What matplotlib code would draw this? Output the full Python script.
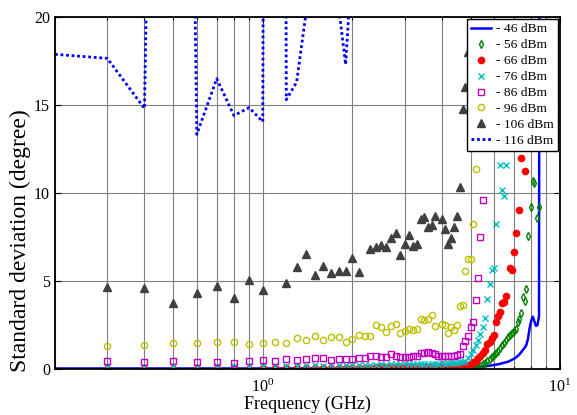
import numpy as np
import matplotlib
matplotlib.use('Agg')
import matplotlib.pyplot as plt
from matplotlib.ticker import LogLocator, NullFormatter

nan = np.nan
plt.rcParams['font.family'] = 'Liberation Serif'
plt.rcParams['mathtext.fontset'] = 'stix'

# --- data (GHz / degree) ---
freq = [0.2, 0.3, 0.4, 0.5, 0.6, 0.7, 0.8, 0.9, 1.0, 1.1,
        1.2, 1.3, 1.4, 1.5, 1.6, 1.7, 1.8, 1.9, 2.0, 2.1,
        2.2, 2.3, 2.4, 2.5, 2.6, 2.7, 2.8, 2.9, 3.0, 3.1,
        3.2, 3.3, 3.4, 3.5, 3.6, 3.7, 3.8, 3.9, 4.0, 4.1,
        4.2, 4.3, 4.4, 4.5, 4.6, 4.7, 4.8, 4.9, 5.0, 5.1,
        5.2, 5.3, 5.4, 5.5, 5.6, 5.7, 5.8, 5.9, 6.0, 6.1,
        6.2, 6.3, 6.4, 6.5, 6.6, 6.7, 6.8, 6.9, 7.0, 7.1,
        7.2, 7.3, 7.4, 7.5, 7.6, 7.7, 7.8, 7.9, 8.0, 8.1,
        8.2, 8.3, 8.4, 8.5, 8.6]

std_46 = [0.03, 0.03, 0.03, 0.03, 0.03, 0.03, 0.03, 0.03, 0.03, 0.03,
          0.03, 0.03, 0.03, 0.03, 0.03, 0.03, 0.03, 0.03, 0.03, 0.03,
          0.03, 0.03, 0.03, 0.03, 0.03, 0.03, 0.03, 0.03, 0.03, 0.03,
          0.03, 0.03, 0.03, 0.03, 0.03, 0.03, 0.03, 0.03, 0.04, 0.04,
          0.04, 0.04, 0.04, 0.05, 0.05, 0.06, 0.06, 0.07, 0.07, 0.08,
          0.09, 0.11, 0.13, 0.14, 0.16, 0.17, 0.19, 0.21, 0.23, 0.25,
          0.27, 0.30, 0.33, 0.36, 0.39, 0.42, 0.47, 0.53, 0.58, 0.65,
          0.73, 0.83, 0.95, 1.08, 1.20, 1.35, 1.70, 2.30, 2.75, 2.97,
          2.70, 2.45, 2.50, 3.00, 95.0]

std_56 = [nan, 0.04, 0.04, 0.04, 0.04, 0.04, 0.04, 0.04, 0.04, 0.04,
          0.04, 0.04, 0.04, 0.04, 0.04, 0.04, 0.04, 0.04, 0.04, 0.04,
          0.04, 0.04, 0.04, 0.04, 0.04, 0.04, 0.04, 0.04, 0.04, 0.04,
          0.04, 0.04, 0.04, 0.04, 0.04, 0.04, 0.04, 0.04, 0.04, 0.04,
          0.04, 0.04, 0.04, 0.04, 0.04, 0.04, 0.04, 0.05, 0.07, 0.08,
          0.10, 0.14, 0.19, 0.26, 0.34, 0.44, 0.55, 0.66, 0.78, 0.92,
          1.05, 1.20, 1.35, 1.50, 1.65, 1.80, 1.93, 2.05, 2.15, 2.30,
          2.69, 2.86, 3.16, 4.11, 3.87, 4.53, 7.56, nan, 9.22, 10.70,
          10.55, nan, 8.60, 9.19, nan]

std_66 = [nan, 0.02, 0.02, 0.02, 0.02, 0.02, 0.02, 0.02, 0.03, 0.03,
          0.04, 0.04, 0.05, 0.05, 0.05, 0.06, 0.06, 0.06, 0.07, 0.07,
          0.08, 0.08, 0.09, 0.09, 0.10, 0.10, 0.11, 0.11, 0.12, 0.12,
          0.12, 0.13, 0.13, 0.13, 0.14, 0.14, 0.14, 0.14, 0.15, 0.15,
          0.15, 0.15, 0.16, 0.16, 0.17, 0.18, 0.20, 0.23, 0.30, 0.38,
          0.48, 0.61, 0.75, 0.90, 1.06, 1.42, 1.55, 1.77, 1.93, 2.69,
          2.99, 3.24, 3.73, 3.80, 4.15, nan, 5.74, 5.60, 6.62, 7.75,
          nan, 9.05, 12.00, nan, 11.25, nan, nan, nan, nan, nan,
          nan, nan, nan, nan, nan]

std_76 = [nan, 0.14, 0.13, 0.15, 0.14, 0.16, 0.15, 0.17, 0.16, 0.18,
          0.19, 0.18, 0.20, 0.21, 0.19, 0.22, 0.21, 0.22, 0.23, 0.22,
          0.24, 0.25, 0.24, 0.26, 0.25, 0.27, 0.26, 0.27, 0.28, 0.27,
          0.28, 0.29, 0.30, 0.29, 0.30, 0.31, 0.30, 0.31, 0.32, 0.31,
          0.32, 0.33, 0.34, 0.35, 0.38, 0.42, 0.48, 0.60, 0.83, 1.08,
          1.36, 1.65, 1.97, 2.40, 2.88, 3.98, 4.82, 5.63, 5.76, 8.24,
          nan, 11.60, 10.15, 9.83, 11.60, nan, nan, nan, nan, nan,
          nan, nan, nan, nan, nan, nan, nan, nan, nan, nan,
          nan, nan, nan, nan, nan]

std_86 = [nan, 0.47, 0.40, 0.45, 0.38, 0.38, 0.34, 0.47, 0.53, 0.45,
          0.57, 0.53, 0.58, 0.60, 0.60, 0.53, 0.56, 0.57, 0.58, 0.60,
          0.64, 0.72, 0.72, 0.66, 0.66, 0.85, 0.74, 0.66, 0.66, 0.70,
          0.72, 0.74, 0.90, 0.93, 0.95, 0.93, 0.85, 0.75, 0.74, 0.74,
          0.72, 0.74, 0.76, 0.80, 0.83, 1.29, 1.57, 1.86, 2.39, 2.65,
          3.91, 5.18, 7.48, 9.60, nan, nan, nan, nan, nan, nan,
          nan, nan, nan, nan, nan, nan, nan, nan, nan, nan,
          nan, nan, nan, nan, nan, nan, nan, nan, nan, nan,
          nan, nan, nan, nan, nan]

std_96 = [nan, 1.33, 1.36, 1.50, 1.50, 1.53, 1.53, 1.42, 1.47, 1.52,
          1.47, 1.74, 1.67, 1.88, 1.64, 1.80, 1.80, 1.53, 1.68, 1.96,
          1.86, 1.87, 2.48, 2.39, 2.12, 2.46, 2.54, 2.04, 2.16, 2.25,
          2.20, 2.25, 2.86, 2.77, 2.82, 3.07, 2.43, nan, 2.54, 2.50,
          2.06, 2.39, 2.20, 2.48, 3.60, 3.63, 5.54, 6.27, 6.27, 8.22,
          11.36, nan, nan, nan, nan, nan, nan, nan, nan, nan,
          nan, nan, nan, nan, nan, nan, nan, nan, nan, nan,
          nan, nan, nan, nan, nan, nan, nan, nan, nan, nan,
          nan, nan, nan, nan, nan]

std_106 = [nan, 4.64, 4.60, 3.73, 4.30, 4.73, 4.05, 5.06, 4.47, nan,
           4.87, 5.78, 6.55, 5.36, 5.87, 5.47, 5.59, 5.57, 6.33, 5.51,
           nan, 6.84, 6.95, 7.02, 6.93, 7.46, 7.74, 6.47, 7.08, 7.60,
           7.00, 7.08, 8.53, 8.65, 8.04, 8.21, 8.71, nan, 8.52, 7.98,
           7.08, 7.42, 8.08, 8.68, 10.35, 14.75, 16.00, 18.00, nan, nan,
           nan, nan, nan, nan, nan, nan, nan, nan, nan, nan,
           nan, nan, nan, nan, nan, nan, nan, nan, nan, nan,
           nan, nan, nan, nan, nan, nan, nan, nan, nan, nan,
           nan, nan, nan, nan, nan]

std_116 = [17.88, 17.65, 14.80, 110.0, 13.33, 16.50, 14.40, 14.85, 14.05, 250.0,
           15.30, 16.30, 20.30, 26.0, 30.0, 27.0, 20.60, 17.30, 23.40, nan,
           nan, nan, nan, nan, nan, nan, nan, nan, nan, nan,
           nan, nan, nan, nan, nan, nan, nan, nan, nan, nan,
           nan, nan, nan, nan, nan, nan, nan, nan, nan, nan,
           nan, nan, nan, nan, nan, nan, nan, nan, nan, nan,
           nan, nan, nan, nan, nan, nan, nan, nan, nan, nan,
           nan, nan, nan, nan, nan, nan, nan, nan, nan, nan,
           nan, nan, nan, nan, nan]

labels = ['- 46 dBm', '- 56 dBm', '- 66 dBm', '- 76 dBm',
          '- 86 dBm', '- 96 dBm', '- 106 dBm', '- 116 dBm']

# --- figure ---
fig = plt.figure(figsize=(5.77, 4.15), dpi=100)
ax = fig.add_axes([55 / 577, 46 / 415, 505 / 577, 352 / 415])

ax.plot(freq, std_46, color='#0000ff', lw=1.8, label=labels[0])
ax.plot(freq, std_56, ls='none', marker='d', ms=4, mfc='none', mec='#008000',
        mew=1.0, label=labels[1])
ax.plot(freq, std_66, ls='none', marker='o', ms=4.5, color='#ff0000',
        label=labels[2])
ax.plot(freq, std_76, ls='none', marker='x', ms=4, mew=1.0, color='#00bfbf',
        label=labels[3])
ax.plot(freq, std_86, ls='none', marker='s', ms=4.5, mfc='none', mec='#bf00bf',
        mew=1.0, label=labels[4])
ax.plot(freq, std_96, ls='none', marker='o', ms=4.5, mfc='none', mec='#bfbf00',
        mew=1.0, label=labels[5])
ax.plot(freq, std_106, ls='none', marker='^', ms=6, color='#404040',
        label=labels[6])
ax.plot(freq, std_116, color='#0000ff', lw=2, ls=(0, (1, 1)), label=labels[7])

ax.set_xscale('log')
ax.set_xlim(0.2, 10)
ax.set_ylim(0, 20)
ax.set_yticks([0, 5, 10, 15, 20])
ax.xaxis.set_major_locator(LogLocator(base=10))
ax.xaxis.set_minor_locator(LogLocator(base=10, subs=np.arange(2, 10)))
ax.xaxis.set_minor_formatter(NullFormatter())

ax.grid(True, which='both', axis='x', color='0.5', lw=0.8)
ax.grid(True, which='major', axis='y', color='0.5', lw=0.8)
ax.set_axisbelow(True)

ax.tick_params(which='both', direction='in', top=True, right=True,
               labelsize=11.5, width=0.8, colors='black')
ax.tick_params(which='major', length=4)
ax.tick_params(which='minor', length=2.5)
ax.tick_params(axis='x', which='major', pad=7)
for s in ax.spines.values():
    s.set_linewidth(1.3)

ax.set_xlabel('Frequency (GHz)', fontsize=13, labelpad=0)
ax.set_ylabel('Standard deviation (degree)', fontsize=17)
ax.yaxis.set_label_coords(-0.047, 0.366)

leg = ax.legend(loc='upper right', fontsize=9.7, frameon=True, fancybox=False,
                edgecolor='black', framealpha=1, borderaxespad=0.15,
                labelspacing=0.26, handlelength=1.5, handletextpad=0.4,
                borderpad=0.3)
leg.get_frame().set_linewidth(1.0)

fig.savefig('out.png', dpi=100)
